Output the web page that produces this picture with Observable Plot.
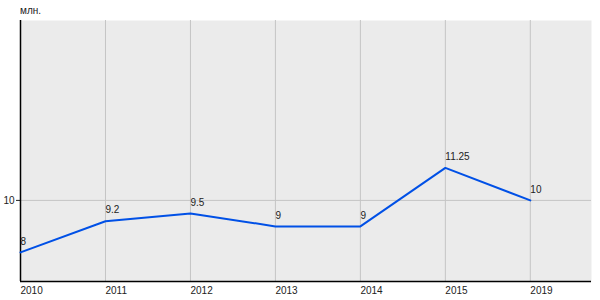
<!DOCTYPE html>
<html><head><meta charset="utf-8">
<script src="https://cdn.jsdelivr.net/npm/d3@7"></script>
<script src="https://cdn.jsdelivr.net/npm/@observablehq/plot@0.6"></script>
<style>
body{margin:0;background:#fff;font-family:"Liberation Sans",Arial,sans-serif;}
#wrap{position:relative;width:600px;height:300px;}
#unit{position:absolute;left:20px;top:5px;font-size:10px;color:#222;}
</style></head><body>
<div id="wrap"><div id="unit">млн.</div><div id="chart"></div></div>
<script>
const years = ["2010","2011","2012","2013","2014","2015","2019"];
const values = [8, 9.2, 9.5, 9, 9, 11.25, 10];
const labels = ["8","9.2","9.5","9","9","11.25","10"];
const yTicks = [10];

const data = years.map((y,i)=>({i, year:y, v:values[i], label:labels[i]}));

const chart = Plot.plot({
  width:600, height:300,
  marginTop:20, marginLeft:20, marginRight:9, marginBottom:19,
  style:{fontFamily:"Liberation Sans, Arial, sans-serif", fontSize:"10px", color:"#222", background:"transparent"},
  x:{type:"linear", domain:[0, 6.72], label:null},
  y:{domain:[6.88, 16.92], label:null},
  marks:[
    Plot.frame({fill:"#ebebeb", stroke:null}),
    Plot.gridX(d3.range(years.length), {stroke:"#c4c4c4", strokeOpacity:1}),
    Plot.gridY(yTicks, {stroke:"#c4c4c4", strokeOpacity:1}),
    Plot.axisX(d3.range(years.length), {tickSize:0, tickPadding:5, textAnchor:"start", tickFormat:i=>years[i], fill:"#222", label:null}),
    Plot.axisY(yTicks, {tickSize:4, tickPadding:2, fill:"#222", label:null}),
    Plot.ruleX([0], {stroke:"#000", strokeWidth:1.5}),
    Plot.ruleY([6.88], {stroke:"#000", strokeWidth:1.5}),
    Plot.line(data, {x:"i", y:"v", stroke:"#0050e6", strokeWidth:2}),
    Plot.text(data, {x:"i", y:"v", text:"label", textAnchor:"start", dy:-11, fill:"#222"})
  ]
});
document.getElementById("chart").appendChild(chart);
</script>
</body></html>
